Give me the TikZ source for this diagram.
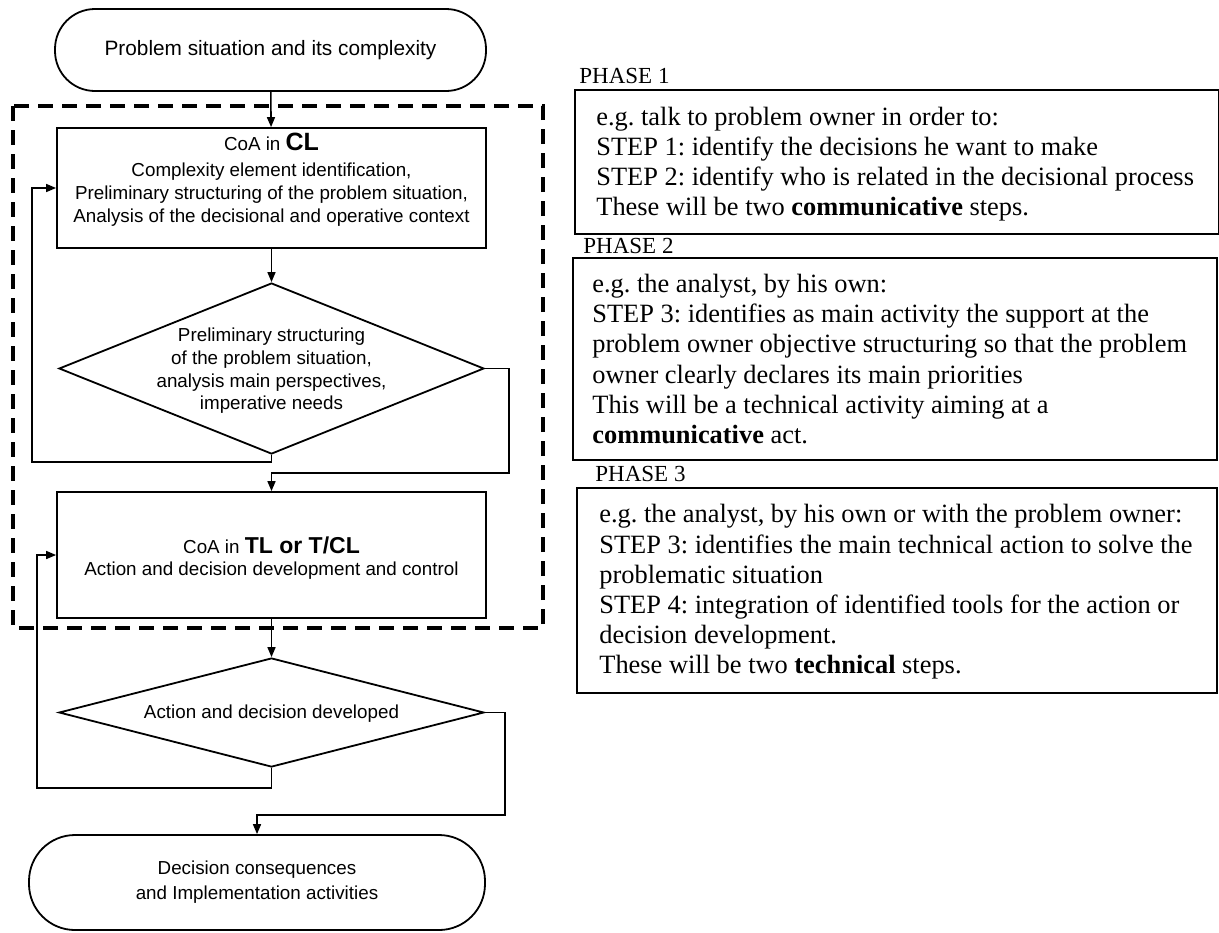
\documentclass[tikz,border=0pt]{standalone}
\usepackage{fontspec}
\setmainfont{Liberation Serif}
\setsansfont{Liberation Sans}
\usetikzlibrary{shapes.geometric,arrows.meta}

\begin{document}
\begin{tikzpicture}[x=0.5pt, y=-0.5pt, line join=miter, >={Triangle[length=5pt,width=4pt]},
	flowtxt/.style={align=center, inner sep=0pt, font=\sffamily\fontsize{9.4}{11.3}\selectfont},
	term/.style={draw, line width=0.9pt, flowtxt},
	stepbox/.style={draw, line width=0.9pt, minimum width=214.5pt},
	query/.style={draw, diamond, line width=0.9pt, inner sep=0pt, minimum width=212.5pt},
	conn/.style={line width=0.8pt},
	phasebox/.style={draw, line width=0.9pt, anchor=north west, inner sep=0pt},
	phasetxt/.style={anchor=west, align=left, inner sep=0pt, font=\frenchspacing\fontsize{13.2}{15.1}\selectfont},
	phaselabel/.style={anchor=west, inner sep=0pt, font=\fontsize{11.5}{13}\selectfont}]
	\useasboundingbox (0,0) rectangle (1219,932);
	% flow chart
	\node[term, rounded corners=20pt, minimum width=215.5pt, minimum height=41pt, font=\sffamily\fontsize{10.4}{12}\selectfont] (start) at (270.5,50) {Problem situation and its complexity};
	\node[stepbox, minimum height=60pt] (coa1) at (271.5,188) {};
	\node[flowtxt] (coa1txt) at (271.5,179.5) {CoA in {\fontsize{12.5}{12}\selectfont\bfseries CL}\\[2pt]Complexity element identification,\\Preliminary structuring of the problem situation,\\Analysis of the decisional and operative context};
	\node[query, minimum height=85.5pt] (dec1) at (271.5,368.5) {};
	\node[flowtxt] (dec1txt) at (271.5,371) {Preliminary structuring\\of the problem situation,\\analysis main perspectives,\\imperative needs};
	\node[stepbox, minimum height=63pt] (coa2) at (271.5,555) {};
	\node[flowtxt] (coa2txt) at (271.5,558) {CoA in {\fontsize{11.5}{12}\selectfont\bfseries TL or T/CL}\\Action and decision development and control};
	\node[query, minimum height=54.5pt] (dec2) at (271.5,712.5) {};
	\node[flowtxt] (dec2txt) at (271.5,714) {Action and decision developed};
	\node[term, rounded corners=23pt, minimum width=228pt, minimum height=47.5pt, font=\sffamily\fontsize{9.4}{12.5}\selectfont] (stop) at (257,882.5) {Decision consequences\\and Implementation activities};
	\draw[line width=1.8pt, dash pattern=on 7.5pt off 4.5pt] (13,106) rectangle (543,628);
	\path (32,462) coordinate (l1)
		(509,473) coordinate (r1)
		(37,788) coordinate (l2)
		(505,815) coordinate (r2);
	\draw[conn,->] (start) -- (coa1);
	\draw[conn,->] (coa1) -- (dec1);
	\draw[conn,->] (dec1.south) |- (l1) |- (coa1.west);
	\draw[conn,->] (dec1.east) -| (r1) -| (coa2.north);
	\draw[conn,->] (coa2) -- (dec2);
	\draw[conn,->] (dec2.south) |- (l2) |- (coa2.west);
	\draw[conn,->] (dec2.east) -| (r2) -| (stop.north);
	% phases
	\node[phaselabel] (lab1) at (579,75.5) {PHASE 1};
	\node[phasebox, minimum width=322pt, minimum height=72pt] (ph1) at (574,89) {};
	\node[phasetxt] (ph1txt) at (596,164) {e.g. talk to problem owner in order to:\\STEP 1: identify the decisions he want to make\\STEP 2: identify who is related in the decisional process\\These will be two \textbf{communicative} steps.};
	\node[phaselabel] (lab2) at (583,245.5) {PHASE 2};
	\node[phasebox, minimum width=322pt, minimum height=101pt] (ph2) at (572,257) {};
	\node[phasetxt] (ph2txt) at (592,359) {e.g. the analyst, by his own:\\STEP 3: identifies as main activity the support at the\\problem owner objective structuring so that the problem\\owner clearly declares its main priorities\\This will be a technical activity aiming at a\\\textbf{communicative} act.};
	\node[phaselabel] (lab3) at (595,473.5) {PHASE 3};
	\node[phasebox, minimum width=320pt, minimum height=102.5pt] (ph3) at (576,487) {};
	\node[phasetxt] (ph3txt) at (599,592) {e.g. the analyst, by his own or with the problem owner:\\STEP 3: identifies the main technical action to solve the\\problematic situation\\STEP 4: integration of identified tools for the action or\\decision development.\\These will be two \textbf{technical} steps.};
\end{tikzpicture}
\end{document}
